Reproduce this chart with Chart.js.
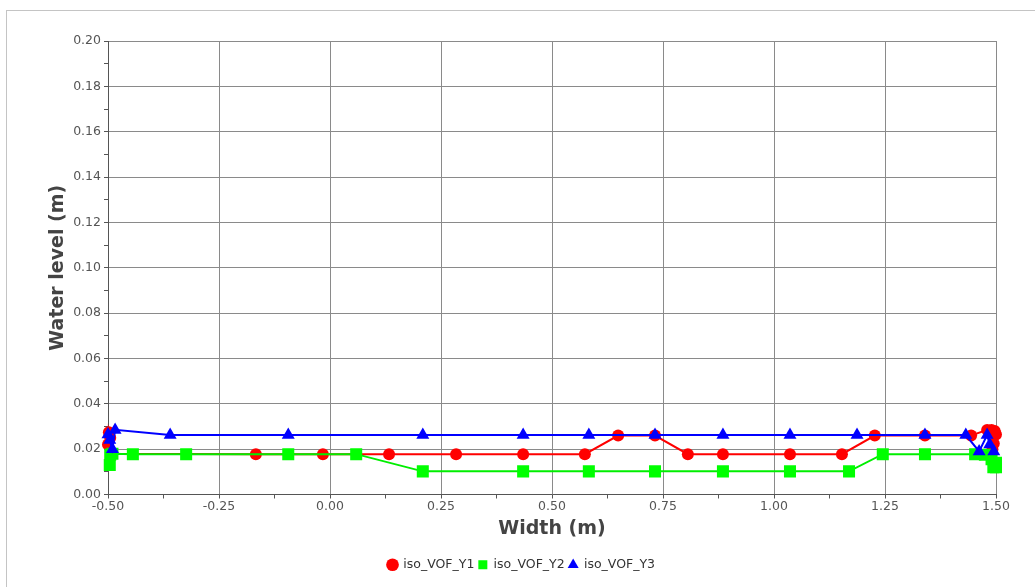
<!DOCTYPE html>
<html>
<head>
<meta charset="utf-8">
<script src="https://cdn.jsdelivr.net/npm/chart.js@4/dist/chart.umd.min.js"></script>
<style>
	html, body { margin: 0; padding: 0; background: #fff; }
	#wrap { position: relative; width: 1035px; height: 587px; }
	#frame { position: absolute; left: 6px; top: 10px; right: -2px; bottom: -2px; border: 1px solid #c4c4c4; }
	canvas { position: absolute; left: 0; top: 0; }
</style>
</head>
<body>
<div id="wrap">
	<div id="frame"></div>
	<canvas id="chart" width="1035" height="587"></canvas>
</div>
<script>
// Series (x = width in m, y = water level in m)
const y1X = [ -0.500, -0.498, -0.495, -0.492, -0.167, -0.016, 0.133, 0.284, 0.435, 0.574, 0.649, 0.732, 0.806, 0.885, 1.036, 1.153, 1.227, 1.340, 1.444, 1.480, 1.490, 1.497, 1.500, 1.492, 1.495 ];
const y1Y = [ 0.0220, 0.0275, 0.0250, 0.0180, 0.0178, 0.0178, 0.0178, 0.0178, 0.0178, 0.0178, 0.0260, 0.0260, 0.0178, 0.0178, 0.0178, 0.0178, 0.0260, 0.0260, 0.0260, 0.0285, 0.0285, 0.0280, 0.0265, 0.0200, 0.0225 ];

const y2X = [ -0.496, -0.495, -0.490, -0.444, -0.324, -0.094, 0.059, 0.209, 0.435, 0.583, 0.732, 0.885, 1.036, 1.169, 1.245, 1.340, 1.453, 1.475, 1.490, 1.494, 1.500, 1.500 ];
const y2Y = [ 0.0130, 0.0175, 0.0180, 0.0178, 0.0178, 0.0178, 0.0178, 0.0102, 0.0102, 0.0102, 0.0102, 0.0102, 0.0102, 0.0102, 0.0178, 0.0178, 0.0178, 0.0175, 0.0155, 0.0120, 0.0140, 0.0120 ];

const y3X = [ -0.500, -0.496, -0.490, -0.484, -0.360, -0.094, 0.209, 0.435, 0.583, 0.732, 0.885, 1.036, 1.187, 1.340, 1.432, 1.462, 1.480, 1.486, 1.495 ];
const y3Y = [ 0.0265, 0.0240, 0.0200, 0.0285, 0.0262, 0.0262, 0.0262, 0.0262, 0.0262, 0.0262, 0.0262, 0.0262, 0.0262, 0.0262, 0.0262, 0.0190, 0.0262, 0.0220, 0.0190 ];

const seriesNames = [ 'iso_VOF_Y1', 'iso_VOF_Y2', 'iso_VOF_Y3' ];

function toPoints( xs, ys ) {
	return xs.map( function( x, i ) { return { x: x, y: ys[ i ] }; } );
}

const tickFont = { family: 'DejaVu Sans', size: 12.5 };
const titleFont = { family: 'DejaVu Sans', size: 19, weight: 'bold' };

// minor ticks: no grid line, tick mark only
function gridColor( ctx ) {
	return ctx.index % 2 === 0 ? '#8a8a8a' : 'rgba(0,0,0,0)';
}

new Chart( document.getElementById( 'chart' ).getContext( '2d' ), {
	type: 'scatter',
	data: {
		datasets: [
			{
				label: seriesNames[0],
				data: toPoints( y1X, y1Y ),
				order: 3, // drawn first, so Y2 and Y3 sit on top
				showLine: true,
				clip: 12,
				borderColor: '#ff0000',
				backgroundColor: '#ff0000',
				borderWidth: 2,
				pointStyle: 'circle',
				pointRadius: 6,
				pointBorderWidth: 0
			},
			{
				label: seriesNames[1],
				data: toPoints( y2X, y2Y ),
				order: 2,
				showLine: true,
				clip: 12,
				borderColor: '#00ee00',
				backgroundColor: '#00ff00',
				borderWidth: 2,
				pointStyle: 'rect',
				pointRadius: 8.5,
				pointBorderWidth: 0
			},
			{
				label: seriesNames[2],
				data: toPoints( y3X, y3Y ),
				order: 1,
				showLine: true,
				clip: 12,
				borderColor: '#0000ff',
				backgroundColor: '#0000ff',
				borderWidth: 2,
				pointStyle: 'triangle',
				pointRadius: 7.5,
				pointBorderWidth: 0
			}
		]
	},
	options: {
		responsive: false,
		animation: false,
		layout: { padding: { left: 47, top: 41, right: 39, bottom: 6 } },
		plugins: {
			tooltip: { enabled: false },
			legend: {
				position: 'bottom',
				labels: {
					usePointStyle: true,
					boxWidth: 9,
					boxHeight: 9,
					padding: 4,
					color: '#333',
					font: { family: 'DejaVu Sans', size: 12.5 },
					sort: function( a, b ) { return a.datasetIndex - b.datasetIndex; }
				}
			}
		},
		scales: {
			x: {
				type: 'linear',
				min: -0.5,
				max: 1.5,
				afterFit: function( scale ) { scale.height = 60; },
				ticks: {
					stepSize: 0.125,
					autoSkip: false,
					maxRotation: 0,
					color: '#555',
					font: tickFont,
					padding: 1,
					callback: function( value, index ) {
						return index % 2 === 0 ? value.toFixed( 2 ) : '';
					}
				},
				grid: { color: gridColor, tickColor: '#555', tickLength: 4, drawOnChartArea: true },
				border: { color: '#555', width: 1 },
				title: { display: true, text: 'Width (m)', color: '#444', font: titleFont, padding: { top: 14, bottom: 14 } }
			},
			y: {
				min: 0,
				max: 0.2,
				afterFit: function( scale ) { scale.width = 61; },
				ticks: {
					stepSize: 0.01,
					autoSkip: false,
					color: '#555',
					font: tickFont,
					padding: 3,
					callback: function( value, index ) {
						return index % 2 === 0 ? value.toFixed( 2 ) : '';
					}
				},
				grid: { color: gridColor, tickColor: '#555', tickLength: 4 },
				border: { color: '#555', width: 1 },
				title: { display: true, text: 'Water level (m)', color: '#444', font: titleFont, padding: { top: 0, bottom: 0 } }
			}
		}
	}
} );
</script>
</body>
</html>
